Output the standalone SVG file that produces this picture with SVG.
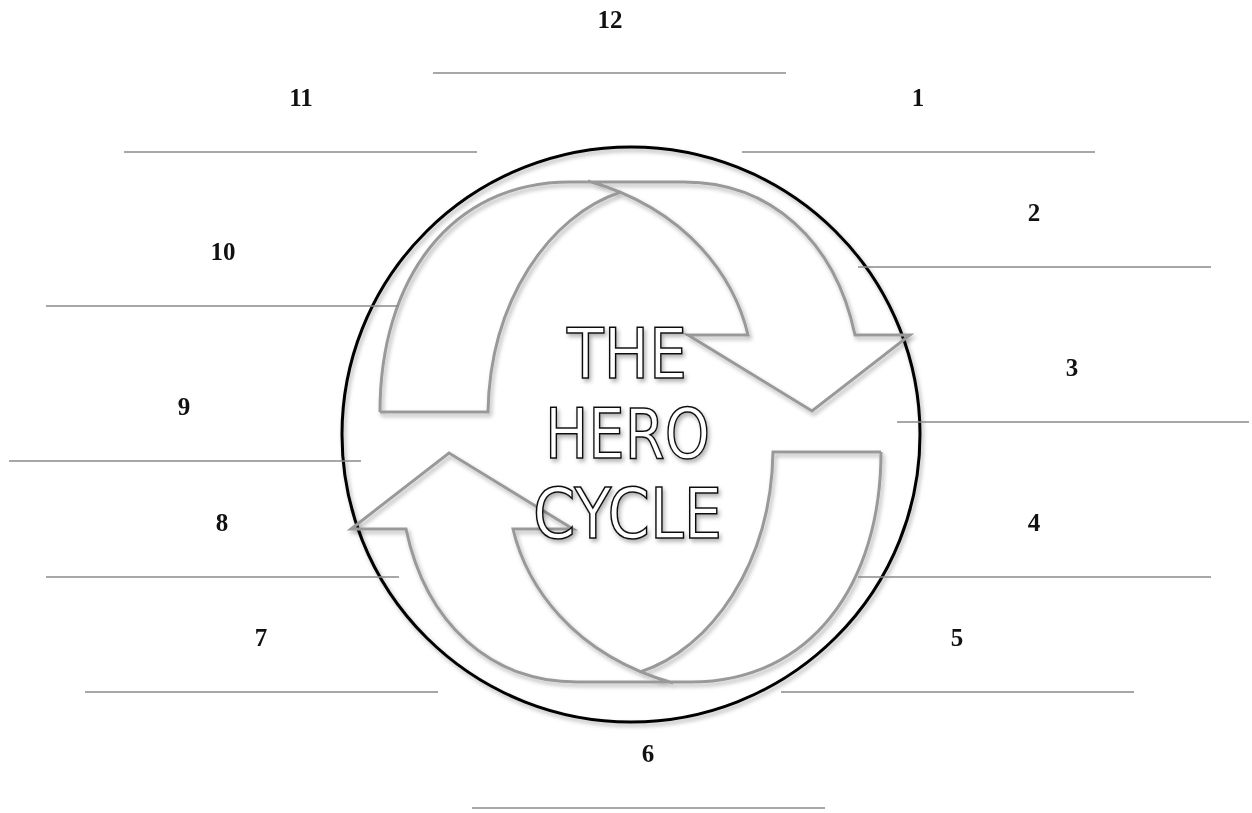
<svg xmlns="http://www.w3.org/2000/svg" width="1252" height="813" viewBox="0 0 1252 813">
  <style>
    .num { font-family: "Liberation Serif", "DejaVu Serif", serif; font-weight: bold; font-size: 25px; fill: #111; text-anchor: middle; }
    .blank { stroke: #8a8a8a; stroke-width: 1.7; fill: none; }
    .arrow { fill: none; stroke: #999; stroke-width: 3; stroke-linejoin: miter; }
    .ring { fill: none; stroke: #000; stroke-width: 3; }
    .title { font-family: "DejaVu Sans Condensed", "DejaVu Sans", sans-serif; font-weight: normal; font-size: 70px; fill: #fff; stroke: #111; stroke-width: 1.5; text-anchor: middle; }
  </style>
  <defs>
    <filter id="shadow" x="-10%" y="-10%" width="120%" height="120%">
      <feDropShadow dx="2" dy="3" stdDeviation="2" flood-color="#000" flood-opacity="0.3"/>
    </filter>
    <g id="arrowShape">
      <path d="M380,412 C380,280 450,182 570,182 L684,182 C770,182 835,240 855,335 L910,335 L812,411 L688,335 L748,335 C735,280 690,210 588,181"/>
      <path d="M621,192 C550,215 490,300 488,412 L380,412"/>
    </g>
  </defs>
  <rect width="1252" height="813" fill="#fff"/>

  <g id="ring" filter="url(#shadow)">
    <ellipse class="ring" cx="631" cy="434.5" rx="289" ry="287.5"/>
  </g>

  <g id="connectors" filter="url(#shadow)">
    <g id="arrow-upper" class="arrow"><use href="#arrowShape"/></g>
    <g id="arrow-lower" class="arrow" transform="rotate(180 630.5 432)"><use href="#arrowShape"/></g>
  </g>

  <g id="title" filter="url(#shadow)">
    <text class="title" x="627" y="378" textLength="120" lengthAdjust="spacingAndGlyphs">THE</text>
    <text class="title" x="627.5" y="458" textLength="165" lengthAdjust="spacingAndGlyphs">HERO</text>
    <text class="title" x="627.5" y="538" textLength="189" lengthAdjust="spacingAndGlyphs">CYCLE</text>
  </g>

  <g id="step-12"><text class="num" x="610" y="28">12</text><line class="blank" x1="433" y1="73" x2="786" y2="73"/></g>
  <g id="step-1"><text class="num" x="918" y="106">1</text><line class="blank" x1="742" y1="152" x2="1095" y2="152"/></g>
  <g id="step-2"><text class="num" x="1034" y="221">2</text><line class="blank" x1="858" y1="267" x2="1211" y2="267"/></g>
  <g id="step-3"><text class="num" x="1072" y="376">3</text><line class="blank" x1="897" y1="422" x2="1249" y2="422"/></g>
  <g id="step-4"><text class="num" x="1034" y="531">4</text><line class="blank" x1="858" y1="577" x2="1211" y2="577"/></g>
  <g id="step-5"><text class="num" x="957" y="646">5</text><line class="blank" x1="781" y1="692" x2="1134" y2="692"/></g>
  <g id="step-6"><text class="num" x="648" y="762">6</text><line class="blank" x1="472" y1="808" x2="825" y2="808"/></g>
  <g id="step-7"><text class="num" x="261" y="646">7</text><line class="blank" x1="85" y1="692" x2="438" y2="692"/></g>
  <g id="step-8"><text class="num" x="222" y="531">8</text><line class="blank" x1="46" y1="577" x2="399" y2="577"/></g>
  <g id="step-9"><text class="num" x="184" y="415">9</text><line class="blank" x1="9" y1="461" x2="361" y2="461"/></g>
  <g id="step-10"><text class="num" x="223" y="260">10</text><line class="blank" x1="46" y1="306" x2="399" y2="306"/></g>
  <g id="step-11"><text class="num" x="301" y="106">11</text><line class="blank" x1="124" y1="152" x2="477" y2="152"/></g>
</svg>
